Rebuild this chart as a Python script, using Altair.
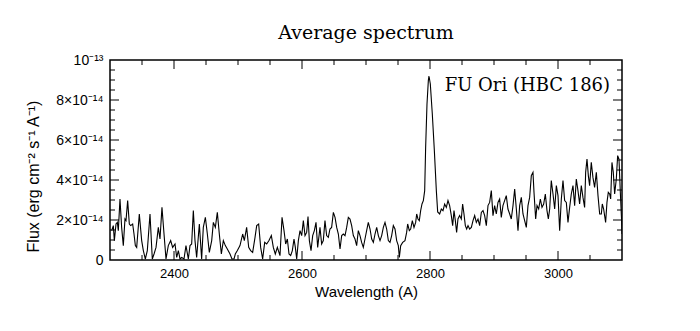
import altair as alt
import pandas as pd

# Spectrum (wavelength in Angstrom, flux in units of 1e-14 erg cm^-2 s^-1 A^-1)
wavelength = [
    2302.6, 2305.2, 2306.8, 2309.4, 2311.5, 2313.0, 2315.6, 2318.2, 2320.8, 2323.4,
    2325.0, 2327.6, 2330.2, 2332.3, 2335.4, 2337.5, 2339.6, 2341.7, 2345.8, 2349.5,
    2352.1, 2355.2, 2358.3, 2362.5, 2366.1, 2368.8, 2371.9, 2375.5, 2378.1, 2381.2,
    2384.4, 2387.5, 2391.1, 2394.8, 2397.9, 2401.6, 2404.2, 2406.8, 2409.4, 2412.0,
    2415.6, 2418.7, 2422.4, 2425.0, 2427.6, 2430.2, 2432.8, 2435.4, 2439.6, 2443.2,
    2445.8, 2449.0, 2452.1, 2455.2, 2458.9, 2461.5, 2464.6, 2467.7, 2470.8, 2474.0,
    2477.1, 2480.2, 2483.3, 2487.5, 2490.6, 2493.8, 2495.8, 2499.0, 2503.1, 2507.3,
    2509.9, 2513.5, 2516.7, 2519.8, 2522.9, 2526.6, 2529.2, 2532.3, 2535.4, 2538.5,
    2541.7, 2544.8, 2548.4, 2552.1, 2555.2, 2558.3, 2561.5, 2565.6,
    2568.8, 2571.9, 2574.5, 2577.1, 2579.7, 2582.3, 2584.9, 2587.5, 2589.6, 2591.7,
    2594.3, 2596.9, 2599.5, 2602.1, 2604.7, 2607.3, 2609.4, 2611.5, 2614.1, 2616.7,
    2619.3, 2621.9, 2624.5, 2628.1, 2630.7, 2633.3, 2635.9, 2638.5, 2641.1, 2643.7,
    2646.3, 2649.0, 2651.6, 2654.2, 2656.8, 2659.4, 2662.0, 2664.6, 2667.2, 2669.8,
    2672.4, 2675.0, 2677.6, 2680.2, 2682.8, 2685.4, 2688.0, 2690.6, 2693.2, 2695.8,
    2698.4, 2701.0, 2703.6, 2706.3, 2708.9, 2711.5, 2714.1, 2716.7, 2719.3, 2721.9,
    2724.5, 2727.1, 2729.7, 2732.3, 2734.9, 2737.5, 2740.1, 2742.7, 2745.3, 2747.9,
    2750.5, 2752.1, 2754.2, 2757.3, 2760.9, 2763.5, 2765.1, 2767.7, 2769.8, 2772.4,
    2775.0, 2777.6, 2779.2, 2781.2, 2783.3, 2785.4, 2787.5, 2789.6,
    2791.7, 2793.2, 2795.3, 2797.4, 2798.4, 2800.5, 2803.6, 2806.8, 2809.9, 2812.0,
    2815.1, 2817.7, 2820.3, 2822.9, 2825.5, 2828.1,
    2830.7, 2833.3, 2835.4, 2837.5, 2839.6, 2841.6, 2843.7, 2846.3, 2848.9, 2851.0,
    2853.1, 2855.2, 2857.3, 2859.4, 2861.9, 2864.6, 2867.2, 2869.8, 2872.4, 2875.0,
    2877.6, 2880.2, 2882.8, 2885.4, 2888.0, 2890.6, 2893.2, 2895.8, 2898.4, 2901.0,
    2903.6, 2906.2, 2908.8, 2911.4, 2914.0, 2916.6, 2919.2, 2921.8, 2924.5, 2927.0,
    2929.7, 2932.3, 2934.9, 2937.5, 2940.1, 2942.7, 2945.3, 2947.9, 2950.5, 2953.1,
    2955.7, 2958.3, 2960.9,
    2962.5, 2965.1, 2967.2, 2969.8, 2972.4, 2975.0, 2977.6, 2980.2, 2982.8, 2984.9,
    2987.0, 2989.5, 2992.2, 2994.8, 2997.4, 3000.0, 3002.6, 3005.2, 3007.8, 3010.4,
    3013.0, 3015.6, 3018.2, 3020.8, 3023.4, 3026.0, 3028.6, 3031.2, 3033.8, 3036.4,
    3039.0, 3041.6, 3043.2, 3045.3, 3047.4, 3049.4, 3052.0, 3054.6, 3057.2, 3059.9,
    3062.5, 3065.1, 3067.7, 3069.2, 3071.3, 3074.4, 3076.5, 3078.6, 3080.7, 3082.3,
    3084.3, 3086.4, 3088.5, 3091.1, 3093.2, 3095.3, 3097.4, 3099.5, 3100.0,
]

flux = [
    1.47, 1.72, 0.97, 1.80, 1.88, 1.47, 3.05, 1.63, 0.72, 2.05,
    1.97, 2.97, 1.80, 1.72, 1.80, 1.30, 0.72, 0.63, 2.30, 0.97,
    0.47, 0.05, 0.47, 2.30, 0.05, 0.30, 0.63, 1.63, 1.05, 2.63,
    1.30, 0.05, 0.72, 0.97, 0.63, 0.80, 0.13, 0.47, 0.05, 0.13,
    0.05, 0.72, 0.05, 0.72, 0.80, 2.47, 0.97, 0.13, 1.80, 0.05,
    1.63, 2.13, 1.30, 0.38, 0.97, 1.88, 1.63, 2.38, 1.30, 0.30,
    0.97, 0.72, 0.55, 0.30, 0.05, 0.05, 0.30, 0.47, 0.72, 1.30,
    0.97, 1.63, 0.63, 0.47, 0.38, 1.13, 1.72, 1.80, 0.63, 0.05,
    0.88, 0.80, 0.97, 1.22, 0.63, 0.30, 0.63, 0.22,
    2.13, 1.47, 0.80, 1.05, 0.30, 0.22, 0.47, 1.05, 0.63, 0.05,
    0.97, 1.47, 1.22, 1.97, 1.22, 1.38, 2.17, 0.97, 0.47, 1.22,
    1.47, 1.88, 0.63, 1.63, 0.80, 0.97, 1.97, 1.22, 1.13, 1.55,
    1.63, 2.38, 2.13, 1.63, 1.30, 0.55, 1.22, 1.30, 1.22, 1.63,
    2.13, 2.05, 1.72, 1.22, 1.05, 0.72, 1.47, 1.22, 0.88, 0.63,
    1.05, 1.47, 1.88, 1.55, 1.05, 0.88, 1.30, 1.63, 1.22, 0.97,
    1.22, 1.63, 1.88, 1.55, 0.97, 0.88, 1.22, 1.72, 1.55, 0.97,
    0.72, 0.13, 0.72, 0.88, 0.97, 1.38, 1.80, 1.47, 1.55, 1.97,
    1.63, 1.88, 2.30, 2.05, 1.97, 2.47, 2.80, 2.97,
    3.47, 5.65, 7.80, 8.97, 9.20, 8.80, 7.30, 5.47, 3.47, 2.40,
    2.30, 2.55, 2.47, 2.80, 2.63, 2.97,
    2.72, 2.22, 1.72, 2.47, 1.97, 1.38, 2.05, 2.22, 2.05, 2.80,
    2.30, 1.72, 1.55, 1.72, 1.55, 1.63, 1.97, 2.22, 1.88, 2.05,
    1.72, 2.38, 2.47, 2.22, 1.72, 2.72, 2.88, 3.47, 2.22, 2.72,
    2.30, 2.88, 3.05, 2.13, 2.72, 2.97, 3.22, 2.55, 2.30, 2.05,
    2.72, 3.55, 2.55, 1.47, 2.72, 3.13, 2.30, 1.97, 1.63, 2.72,
    3.13, 4.22, 4.38,
    3.38, 2.05, 2.72, 2.55, 3.05, 2.63, 2.80, 3.30, 2.47, 2.05,
    2.55, 3.97, 3.30, 2.55, 3.72, 3.22, 1.47, 3.05, 3.97, 2.97,
    2.88, 1.88, 2.63, 3.30, 3.72, 2.72, 4.05, 3.47, 2.80, 3.72,
    3.13, 2.63, 4.38, 5.05, 4.22, 3.72, 4.88, 4.13, 3.63, 4.38,
    3.22, 2.30, 2.30, 2.80, 2.55, 1.88, 2.88, 3.38, 3.30, 3.05,
    4.88, 4.38, 3.30, 4.05, 5.22, 5.05, 3.38, 1.88, 1.30,
]

x_label_values = [2400, 2600, 2800, 3000]
x_minor_ticks = [2350, 2450, 2500, 2550, 2650, 2700, 2750, 2850, 2900, 2950, 3050]
y_label_values = [0, 2, 4, 6, 8, 10]
y_major_ticks = [2, 4, 6, 8]
y_minor_ticks = [0.5, 1, 1.5, 2.5, 3, 3.5, 4.5, 5, 5.5, 6.5, 7, 7.5, 8.5, 9, 9.5]

n = min(len(wavelength), len(flux))
spec = pd.DataFrame({"wl": wavelength[:n], "flux": flux[:n]})

W, H = 512, 200
XDOM = [2300, 3100]
YDOM = [0, 10]
xs = alt.Scale(domain=XDOM, nice=False, zero=False)
ys = alt.Scale(domain=YDOM, nice=False, zero=False)

SANS = "Liberation Sans"
SERIF = "DejaVu Serif"

x_axis = alt.Axis(
    values=x_label_values, format="d", labelOverlap=False, labelFlush=False,
    labelFontSize=13,
    title="Wavelength (A)", titleFontSize=15,
    titleX=256, titleY=31, titleBaseline="middle", titleAlign="center")
y_axis = alt.Axis(
    values=y_label_values, labelOverlap=False, labelFlush=False, labelFontSize=14,
    labelExpr="datum.value == 0 ? '0' : (datum.value == 10 ? '10\u207b\u00b9\u00b3' : datum.value + '\u00d710\u207b\u00b9\u2074')",
    title="Flux (erg cm\u207b\u00b2 s\u207b\u00b9 A\u207b\u00b9)", titleFontSize=16, titleAngle=270,
    titleX=-77, titleY=116, titleAlign="center", titleBaseline="middle")

line = alt.Chart(spec).mark_line(color="black", strokeWidth=1.1, clip=True).encode(
    x=alt.X("wl:Q", scale=xs, axis=x_axis),
    y=alt.Y("flux:Q", scale=ys, axis=y_axis),
)

def xticks(values, length):
    d = pd.DataFrame({"t": values})
    bottom = alt.Chart(d).mark_rule(color="black", strokeWidth=1).encode(
        x=alt.X("t:Q", scale=xs, axis=None), y=alt.value(H), y2=alt.value(H - length))
    top = alt.Chart(d).mark_rule(color="black", strokeWidth=1).encode(
        x=alt.X("t:Q", scale=xs, axis=None), y=alt.value(0), y2=alt.value(length))
    return [bottom, top]

def yticks(values, length):
    d = pd.DataFrame({"t": values})
    left = alt.Chart(d).mark_rule(color="black", strokeWidth=1).encode(
        y=alt.Y("t:Q", scale=ys, axis=None), x=alt.value(0), x2=alt.value(length))
    right = alt.Chart(d).mark_rule(color="black", strokeWidth=1).encode(
        y=alt.Y("t:Q", scale=ys, axis=None), x=alt.value(W), x2=alt.value(W - length))
    return [left, right]

label = alt.Chart(pd.DataFrame({"name": ["FU Ori (HBC 186)"]})).mark_text(
    align="left", baseline="middle", font=SERIF, fontSize=18, color="black"
).encode(
    x=alt.XDatum(2823, scale=xs, axis=None),
    y=alt.YDatum(8.7, scale=ys, axis=None),
    text="name:N",
)

layers = ([line] + xticks(x_label_values, 9) + xticks(x_minor_ticks, 5)
          + yticks(y_major_ticks, 9) + yticks(y_minor_ticks, 5) + [label])

chart = alt.layer(*layers).resolve_scale(x="independent", y="independent").properties(
    width=W, height=H,
    title=alt.TitleParams("Average spectrum", font=SERIF, fontSize=19, fontWeight="normal",
                          color="black", anchor="middle", baseline="bottom", offset=-9),
    autosize=alt.AutoSizeParams(type="none"),
    padding={"left": 110, "top": 60, "right": 78, "bottom": 71},
).configure(background="white").configure_view(
    stroke="black", strokeWidth=1.5
).configure_axis(
    ticks=False, domain=False, grid=False,
    labelFont=SANS, labelColor="black", labelPadding=7,
    titleFont=SANS, titleFontWeight="normal", titleColor="black",
)

chart.save("out.html", embed_options={"renderer": "svg", "actions": False})
